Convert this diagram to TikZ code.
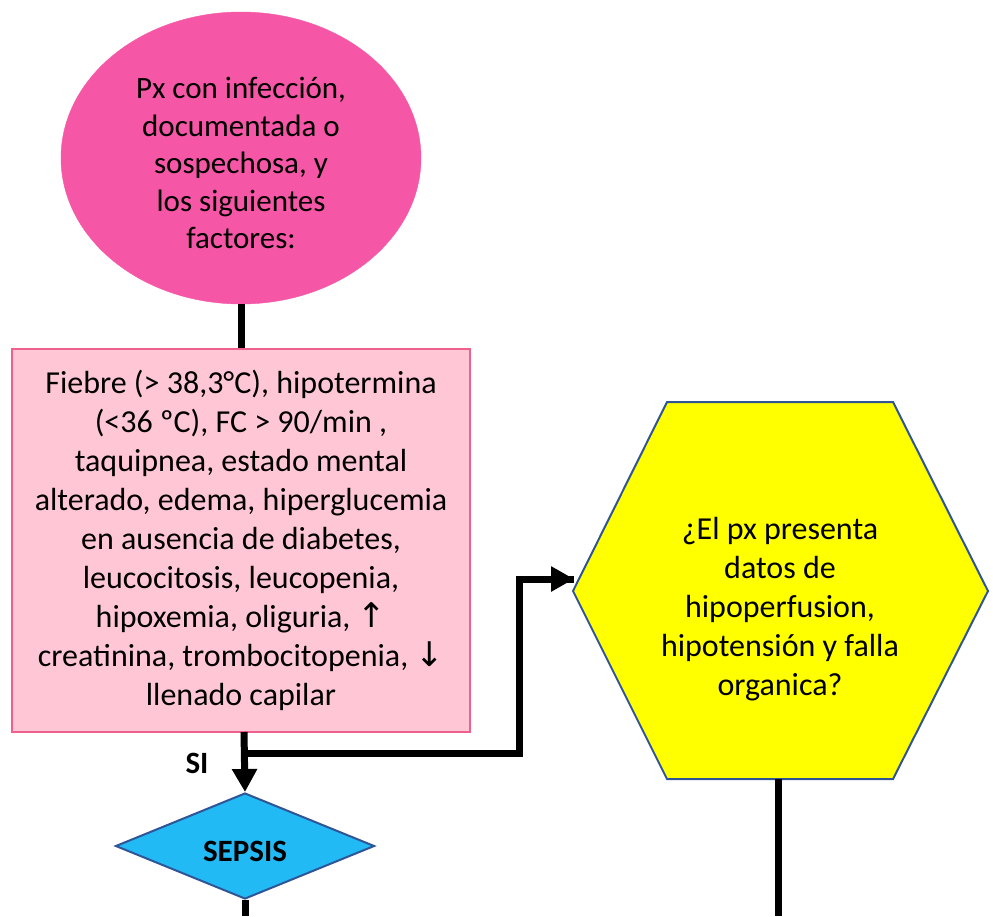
\documentclass[tikz,border=0pt]{standalone}
\usepackage{fontspec}
\setmainfont{Carlito}
\newfontfamily\arr{DejaVu Sans}
\usetikzlibrary{shapes.geometric,arrows.meta}
\definecolor{ellfill}{RGB}{245,86,165}
\definecolor{rectfill}{RGB}{255,199,214}
\definecolor{rectline}{RGB}{240,96,140}
\definecolor{diafill}{RGB}{33,186,245}
\definecolor{bluline}{RGB}{47,85,151}
\definecolor{hexfill}{RGB}{255,255,0}
\newcommand\arrsym[1]{{\arr\fontsize{34}{39}\selectfont #1}}
\tikzset{
  txt/.style={font=\fontsize{32}{39}\selectfont, align=center, text=black},
  elltxt/.style={font=\fontsize{31}{37.5}\selectfont, align=center, text=black},
  conn/.style={line width=7pt, black, line join=miter},
  arrowconn/.style={conn, -{Triangle[width=24pt,length=23pt]}},
  startell/.style={ellipse, fill=ellfill, draw=ellfill, minimum width=360pt, minimum height=292pt, inner sep=0pt},
  procbox/.style={rectangle, fill=rectfill, draw=rectline, line width=2pt, minimum width=458pt, minimum height=383pt, inner sep=0pt},
  decbox/.style={diamond, fill=diafill, draw=bluline, line width=2pt, minimum width=259pt, minimum height=106pt, inner sep=0pt},
  hexshape/.style={fill=hexfill, draw=bluline, line width=2pt, line join=miter},
}
\begin{document}
\begin{tikzpicture}[x=1pt,y=-1pt]
\useasboundingbox (0,0) rectangle (993,916);
\node[startell] (ell) at (241,158) {};
\node[elltxt] (elltext) at (241,163) {Px con infección,\\documentada o\\sospechosa, y\\los siguientes\\factores:};
\node[procbox, txt] (rect) at (241,540.5) {Fiebre (> 38,3°C), hipotermina\\(<36 ºC), FC > 90/min ,\\taquipnea, estado mental\\alterado, edema, hiperglucemia\\en ausencia de diabetes,\\leucocitosis, leucopenia,\\hipoxemia, oliguria, \arrsym{↑}\\creatinina, trombocitopenia, \arrsym{↓}\\llenado capilar};
\node[decbox] (diam) at (245,846) {};
\node[txt, font=\fontsize{31}{37.5}\selectfont\bfseries] (sepsis) at (245,851) {SEPSIS};
\coordinate (hN1) at (667,402);
\coordinate (hN2) at (893,402);
\coordinate (hE) at (988,591);
\coordinate (hS2) at (893,779);
\coordinate (hS1) at (667,779);
\coordinate (hW) at (573,591);
\draw[hexshape] (hN1) -- (hN2) -- (hE) -- (hS2) -- (hS1) -- (hW) -- cycle;
\node[txt] (hex) at (780,609) {¿El px presenta\\datos de\\hipoperfusion,\\hipotensión y falla\\organica?};
\node[txt, font=\fontsize{31}{37.5}\selectfont\bfseries] (si) at (197,763) {SI};
% connectors
\draw[conn] (ell.south) -- (rect.north);
\coordinate (rectout) at (244,732);
\coordinate (branch) at (244,753);
\coordinate (bend1) at (519,753);
\coordinate (bend2) at (519,579);
\coordinate (hexin) at (574,579);
\draw[arrowconn] (rectout) -- (diam.north);
\draw[conn] (branch) -- (bend1) -- (bend2) -- (hexin);
\draw[arrowconn] (bend2) -- (hexin);
\coordinate (bot1) at (245,916);
\coordinate (hexbot) at (778,779);
\coordinate (bot2) at (778,916);
\draw[conn] (diam.south) -- (bot1);
\draw[conn] (hexbot) -- (bot2);
\end{tikzpicture}
\end{document}
